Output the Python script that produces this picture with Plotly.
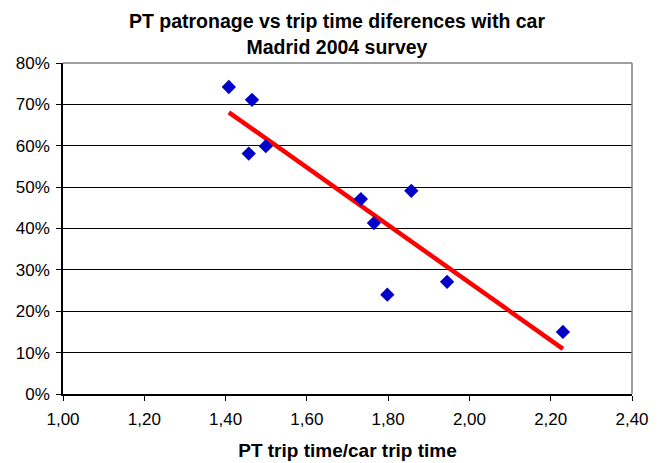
import numpy as np
import plotly.graph_objects as go

# Data
trip_time_ratio = [1.408, 1.465, 1.457, 1.499, 1.733, 1.765, 1.798, 1.857, 1.945, 2.230]
pt_patronage = [0.742, 0.711, 0.581, 0.599, 0.471, 0.413, 0.240, 0.491, 0.271, 0.150]

x_ticks = [1.0, 1.2, 1.4, 1.6, 1.8, 2.0, 2.2, 2.4]
y_ticks = [0, 0.1, 0.2, 0.3, 0.4, 0.5, 0.6, 0.7, 0.8]

# Linear trend line (least squares) spanning the data range
slope, intercept = np.polyfit(trip_time_ratio, pt_patronage, 1)
trend_x = [min(trip_time_ratio), max(trip_time_ratio)]
trend_y = [slope * v + intercept for v in trend_x]

fig = go.Figure()
fig.add_trace(go.Scatter(
    x=trend_x, y=trend_y, mode="lines",
    line=dict(color="#FF0000", width=4.5),
    showlegend=False, hoverinfo="skip"))
fig.add_trace(go.Scatter(
    x=trip_time_ratio, y=pt_patronage, mode="markers",
    marker=dict(symbol="diamond", size=11, color="#0000C8",
                line=dict(width=0)),
    showlegend=False))

font_family = "Liberation Sans, Arial, sans-serif"

# The page adds an 8px body margin, so the figure is 8px smaller than the window
fig.update_layout(
    width=654, height=455,
    margin=dict(l=55, r=30, t=55, b=69),
    paper_bgcolor="white", plot_bgcolor="white",
    separators=",.",
    font=dict(family=font_family, size=17, color="black"),
    title=dict(
        text="<b>PT patronage vs trip time diferences with car<br>Madrid 2004 survey</b>",
        x=0.503, xanchor="center", y=0.955, yanchor="middle",
        font=dict(size=19.5, color="black")),
    xaxis=dict(
        range=[1.0, 2.4], tickvals=x_ticks, tickformat=".2f",
        automargin=False,
        showgrid=False, zeroline=False,
        showline=True, linecolor="black", linewidth=1.5,
        ticks="outside", ticklen=5, tickcolor="black",
        ticklabelstandoff=4,
        mirror=False,
        title=dict(text="<b>PT trip time/car trip time</b>",
                   font=dict(size=19), standoff=16),
        tickfont=dict(size=17)),
    yaxis=dict(
        range=[0, 0.8], tickvals=y_ticks, tickformat=".0%",
        automargin=False,
        showgrid=True, gridcolor="black", gridwidth=1,
        zeroline=False,
        showline=True, linecolor="black", linewidth=1.5,
        ticks="outside", ticklen=5, tickcolor="black",
        ticklabelstandoff=3,
        tickfont=dict(size=17)),
    shapes=[
        dict(type="line", xref="paper", yref="paper", x0=0, x1=1, y0=1, y1=1,
             line=dict(color="#808080", width=1.5)),
        dict(type="line", xref="paper", yref="paper", x0=1, x1=1, y0=0, y1=1,
             line=dict(color="#808080", width=1.5)),
    ],
)

fig.write_html("out.html")
